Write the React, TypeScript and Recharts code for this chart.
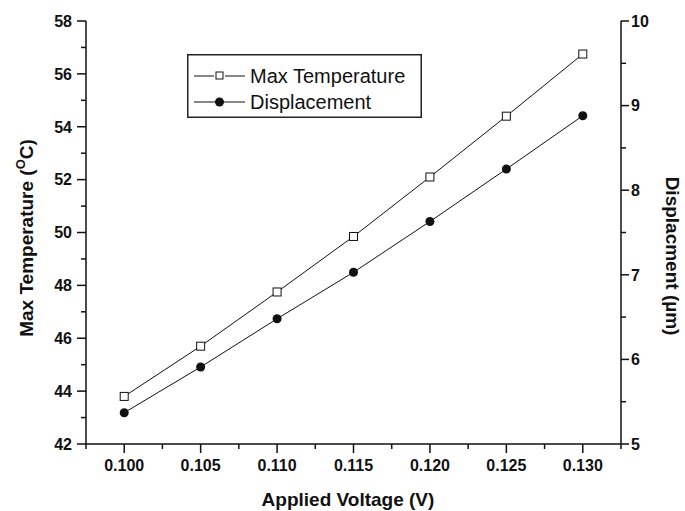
import { LineChart, Line, XAxis, YAxis, Legend } from 'recharts'

const voltage = [0.1, 0.105, 0.11, 0.115, 0.12, 0.125, 0.13]
const maxTemperature = [43.8, 45.7, 47.75, 49.85, 52.1, 54.4, 56.75]
const displacement = [5.37, 5.91, 6.48, 7.03, 7.63, 8.25, 8.88]

const voltageTicks = [
  0.0975, 0.1, 0.1025, 0.105, 0.1075, 0.11, 0.1125, 0.115, 0.1175, 0.12, 0.1225, 0.125, 0.1275, 0.13, 0.1325,
]
const tempTicks = [42, 43, 44, 45, 46, 47, 48, 49, 50, 51, 52, 53, 54, 55, 56, 57, 58]
const dispTicks = [5, 5.5, 6, 6.5, 7, 7.5, 8, 8.5, 9, 9.5, 10]

const data = voltage.map((v, i) => ({ v, temp: maxTemperature[i], disp: displacement[i] }))

const font = 'Arial, "Liberation Sans", sans-serif'
const ink = '#111'

const XTick = (props: any) => {
  const { x, y, payload } = props
  const major = Math.round(payload.value * 10000) % 50 === 0
  return (
    <g>
      <line x1={x} x2={x} y1={y} y2={y + (major ? 9 : 5)} stroke={ink} strokeWidth={1.5} />
      {major && (
        <text x={x} y={y + 27} textAnchor="middle" fontFamily={font} fontWeight="bold" fontSize={16} fill={ink}>
          {payload.value.toFixed(3)}
        </text>
      )}
    </g>
  )
}

const LeftTick = (props: any) => {
  const { x, y, payload } = props
  const major = payload.value % 2 === 0
  return (
    <g>
      <line x1={x} x2={x - (major ? 9 : 5)} y1={y} y2={y} stroke={ink} strokeWidth={1.5} />
      {major && (
        <text x={x - 14} y={y} dy="0.36em" textAnchor="end" fontFamily={font} fontWeight="bold" fontSize={16} fill={ink}>
          {payload.value}
        </text>
      )}
    </g>
  )
}

const RightTick = (props: any) => {
  const { x, y, payload } = props
  const major = Number.isInteger(payload.value)
  return (
    <g>
      <line x1={x} x2={x + (major ? 8 : 5)} y1={y} y2={y} stroke={ink} strokeWidth={1.5} />
      {major && (
        <text x={x + 10} y={y} dy="0.36em" textAnchor="start" fontFamily={font} fontWeight="bold" fontSize={16} fill={ink}>
          {payload.value}
        </text>
      )}
    </g>
  )
}

const TempLabel = () => (
  <text transform="translate(33,238) rotate(-90)" textAnchor="middle" fontFamily={font} fontWeight="bold" fontSize={19} fill={ink}>
    Max Temperature (
    <tspan dy={-8} fontSize={13}>O</tspan>
    <tspan dy={8}>C)</tspan>
  </text>
)

const DispLabel = () => (
  <text transform="translate(666,256) rotate(90)" textAnchor="middle" fontFamily={font} fontWeight="bold" fontSize={19} fill={ink}>
    Displacment (µm)
  </text>
)

const XLabel = () => (
  <text x={348} y={506} textAnchor="middle" fontFamily={font} fontWeight="bold" fontSize={19} fill={ink}>
    Applied Voltage (V)
  </text>
)

const SquareDot = (props: any) => {
  const { cx, cy } = props
  return <rect x={cx - 4} y={cy - 4} width={8} height={8} fill="#fff" stroke={ink} strokeWidth={1} />
}

const CircleDot = (props: any) => {
  const { cx, cy } = props
  return <circle cx={cx} cy={cy} r={4.5} fill={ink} />
}

const renderLegend = () => (
  <svg width={235} height={64}>
    <rect x={0.75} y={0.75} width={233.5} height={62.5} fill="#fff" stroke="#222" strokeWidth={1.5} />
    <line x1={7} x2={27} y1={22} y2={22} stroke={ink} strokeWidth={1} />
    <rect x={29} y={18} width={7} height={7} fill="#fff" stroke={ink} strokeWidth={1} />
    <line x1={38} x2={58} y1={22} y2={22} stroke={ink} strokeWidth={1} />
    <text x={63} y={22} dy="0.36em" fontFamily={font} fontSize={20} fill={ink}>Max Temperature</text>
    <line x1={7} x2={58} y1={48} y2={48} stroke={ink} strokeWidth={1} />
    <circle cx={32.5} cy={48} r={4.5} fill={ink} />
    <text x={63} y={48} dy="0.36em" fontFamily={font} fontSize={20} fill={ink}>Displacement</text>
  </svg>
)

export default function App() {
  return (
    <div style={{ position: 'absolute', left: 0, top: 0, background: '#fff' }}>
      <LineChart width={685} height={511} data={data} margin={{ top: 21, right: 0, bottom: 0, left: 0 }}>
        <XAxis
          dataKey="v"
          type="number"
          domain={[0.0975, 0.1325]}
          ticks={voltageTicks}
          interval={0}
          height={67}
          tickSize={0}
          tickMargin={0}
          tickLine={false}
          tick={<XTick />}
          axisLine={{ stroke: ink, strokeWidth: 1.5 }}
          label={<XLabel />}
        />
        <YAxis
          yAxisId="left"
          orientation="left"
          type="number"
          domain={[42, 58]}
          ticks={tempTicks}
          interval={0}
          width={86}
          tickSize={0}
          tickMargin={0}
          tickLine={false}
          tick={<LeftTick />}
          axisLine={{ stroke: ink, strokeWidth: 1.5 }}
          label={<TempLabel />}
        />
        <YAxis
          yAxisId="right"
          orientation="right"
          type="number"
          domain={[5, 10]}
          ticks={dispTicks}
          interval={0}
          width={64}
          tickSize={0}
          tickMargin={0}
          tickLine={false}
          tick={<RightTick />}
          axisLine={{ stroke: ink, strokeWidth: 1.5 }}
          label={<DispLabel />}
        />
        <Legend
          layout="horizontal"
          verticalAlign="middle"
          align="center"
          content={renderLegend}
          wrapperStyle={{ left: 187, top: 54, width: 235, height: 64 }}
        />
        <Line
          yAxisId="left"
          dataKey="temp"
          stroke={ink}
          strokeWidth={1}
          dot={<SquareDot />}
          activeDot={false}
          isAnimationActive={false}
        />
        <Line
          yAxisId="right"
          dataKey="disp"
          stroke={ink}
          strokeWidth={1}
          dot={<CircleDot />}
          activeDot={false}
          isAnimationActive={false}
        />
      </LineChart>
    </div>
  )
}
